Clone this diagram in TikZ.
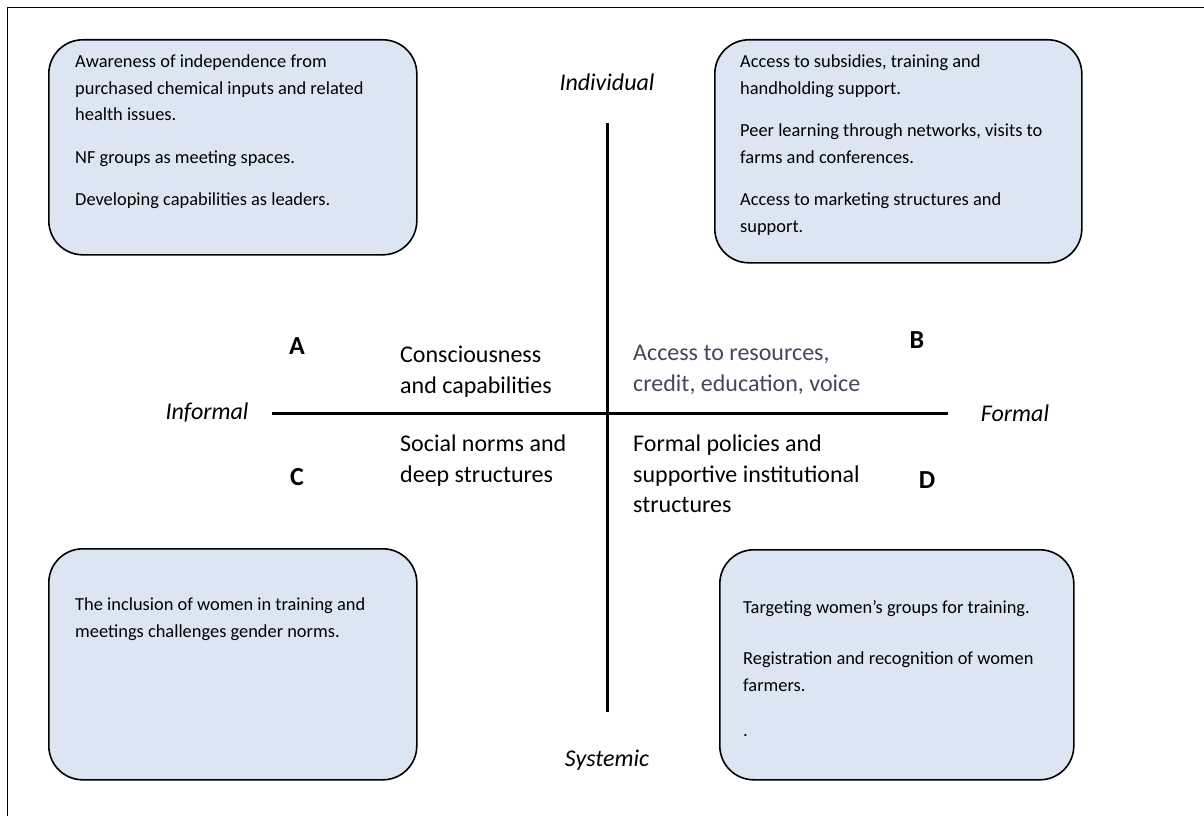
\documentclass[tikz,border=0pt]{standalone}
\usepackage{fontspec}
\setmainfont{Carlito}
\usetikzlibrary{positioning}

\definecolor{panelblue}{HTML}{DCE6F2}
\definecolor{accesstext}{HTML}{44475A}

\begin{document}
\begin{tikzpicture}[x=1pt, y=-1pt, node distance=0pt]
		\tikzstyle{panel} = [draw=black, line width=1.6pt, fill=panelblue, rounded corners=34pt, inner sep=0pt, anchor=north west]
		\tikzstyle{paneltext} = [inner sep=0pt, align=left, font=\fontsize{18.4}{26.5}\selectfont]
		\tikzstyle{quadtext} = [inner sep=0pt, align=left, anchor=north west, font=\fontsize{24}{30.5}\selectfont]
		\tikzstyle{letter} = [inner sep=0pt, font=\fontsize{26}{28}\selectfont\bfseries]
		\tikzstyle{axislabel} = [inner sep=0pt, font=\fontsize{24}{28}\selectfont\itshape]
		\tikzstyle{axis} = [line width=3pt]
		
		\useasboundingbox (0,0) rectangle (1204,816);
		\draw[line width=1pt] (7,816) -- (7,8) -- (1204,8);
		
		% panels
		\node[panel, minimum width=368pt, minimum height=215pt] at (48,39) (boxA) {};
		\node[panel, minimum width=367pt, minimum height=223pt] at (714,39) (boxB) {};
		\node[panel, minimum width=368pt, minimum height=231pt] at (48,548) (boxC) {};
		\node[panel, minimum width=354pt, minimum height=230pt] at (719,549) (boxD) {};
		
		\node[paneltext, below right=16pt and 27pt of boxA.north west] (textA)
			{Awareness of independence from\\purchased chemical inputs and related\\health issues.\\[16pt]NF groups as meeting spaces.\\[16pt]Developing capabilities as leaders.};
		\node[paneltext, below right=16pt and 26pt of boxB.north west] (textB)
			{Access to subsidies, training and\\handholding support.\\[16pt]Peer learning through networks, visits to\\farms and conferences.\\[16pt]Access to marketing structures and\\support.};
		\node[paneltext, below right=50pt and 27pt of boxC.north west] (textC)
			{The inclusion of women in training and\\meetings challenges gender norms.};
		\node[paneltext, below right=51pt and 24pt of boxD.north west] (textD)
			{Targeting women’s groups for training.\\[25pt]Registration and recognition of women\\farmers.\\[19pt].};
		
		% axes
		\coordinate (top) at (607,123);
		\coordinate (bottom) at (607,712);
		\coordinate (left) at (272,413);
		\coordinate (right) at (948,413);
		\draw[axis] (top) -- (bottom);
		\draw[axis] (left) -- (right);
		
		\node[axislabel] at (607,82) (individual) {Individual};
		\node[axislabel] at (607,760) (systemic) {Systemic};
		\node[axislabel] at (207,413) (informal) {Informal};
		\node[axislabel] at (1015,413) (formal) {Formal};
		
		\node[letter] at (297,346) (qA) {A};
		\node[letter] at (917,340) (qB) {B};
		\node[letter] at (297,477) (qC) {C};
		\node[letter] at (927,480) (qD) {D};
		
		\node[quadtext] at (400,346) (consc) {Consciousness\\and capabilities};
		\node[quadtext, text=accesstext] at (633,345) (access) {Access to resources,\\credit, education, voice};
		\node[quadtext] at (400,435) (norms) {Social norms and\\deep structures};
		\node[quadtext] at (633,435) (policies) {Formal policies and\\supportive institutional\\structures};
\end{tikzpicture}
\end{document}
